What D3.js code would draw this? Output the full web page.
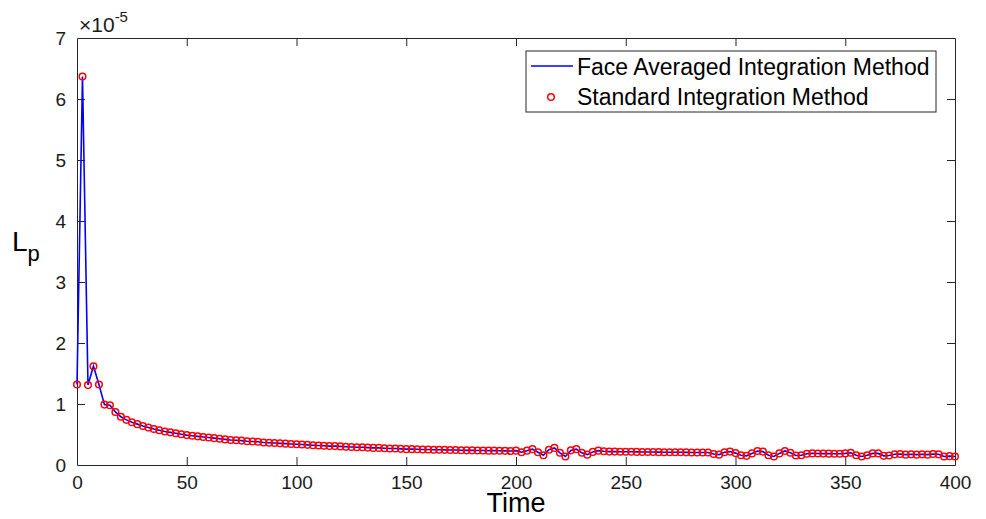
<!DOCTYPE html>
<html>
<head>
<meta charset="utf-8">
<script src="https://cdn.jsdelivr.net/npm/d3@7"></script>
<style>
  body { margin: 0; background: #fff; }
  svg { font-family: "Liberation Sans", Arial, Helvetica, sans-serif; }
</style>
</head>
<body>
<svg id="chart" width="986" height="519"></svg>
<script>
// ---- data (values in units of 1e-5) ----
const times = d3.range(0, 400.001, 2.5);
const lpValues = [
  1.32, 6.37, 1.31, 1.62, 1.32, 0.99, 0.98, 0.87, 0.79, 0.74,
  0.70, 0.67, 0.64, 0.615, 0.59, 0.57, 0.55, 0.535, 0.52, 0.505,
  0.49, 0.48, 0.47, 0.46, 0.45, 0.44, 0.43, 0.42, 0.41, 0.405,
  0.40, 0.39, 0.385, 0.38, 0.37, 0.365, 0.36, 0.355, 0.35, 0.345,
  0.34, 0.335, 0.33, 0.325, 0.32, 0.315, 0.31, 0.31, 0.305, 0.30,
  0.295, 0.29, 0.29, 0.285, 0.28, 0.28, 0.275, 0.27, 0.27, 0.265,
  0.26, 0.26, 0.258, 0.255, 0.253, 0.25, 0.25, 0.248, 0.245, 0.245,
  0.243, 0.24, 0.24, 0.238, 0.237, 0.235, 0.235, 0.233, 0.232, 0.23,
  0.235, 0.21, 0.235, 0.26, 0.21, 0.16, 0.25, 0.28, 0.20, 0.14,
  0.24, 0.26, 0.20, 0.17, 0.215, 0.235, 0.225, 0.22, 0.22, 0.218,
  0.217, 0.216, 0.215, 0.214, 0.213, 0.212, 0.211, 0.21, 0.21, 0.209,
  0.208, 0.207, 0.206, 0.205, 0.205, 0.204, 0.18, 0.17, 0.21, 0.22,
  0.195, 0.16, 0.15, 0.19, 0.23, 0.22, 0.16, 0.14, 0.19, 0.23,
  0.20, 0.155, 0.16, 0.185, 0.19, 0.188, 0.187, 0.186, 0.185, 0.184,
  0.19, 0.20, 0.16, 0.14, 0.16, 0.19, 0.19, 0.15, 0.155, 0.175,
  0.18, 0.17, 0.175, 0.17, 0.175, 0.17, 0.18, 0.175, 0.14, 0.145,
  0.14
];
const xTicks = [0, 50, 100, 150, 200, 250, 300, 350, 400];
const yTicks = [0, 1, 2, 3, 4, 5, 6, 7];
const seriesNames = ["Face Averaged Integration Method", "Standard Integration Method"];
const data = times.map((t, i) => ({ t, v: lpValues[i] })).filter(d => d.v !== undefined);

// ---- layout ----
const svg = d3.select("#chart");
const m = { left: 77, right: 955, top: 38, bottom: 465 };
const x = d3.scaleLinear().domain([0, 400]).range([m.left, m.right]);
const y = d3.scaleLinear().domain([0, 7]).range([m.bottom, m.top]);
const axisColor = "#262626";
const tickLen = 8;

// axes (MATLAB box style with inward ticks)
const gx = svg.append("g").attr("transform", `translate(0,${m.bottom})`)
  .call(d3.axisBottom(x).tickValues(xTicks).tickSizeInner(-tickLen).tickSizeOuter(0).tickPadding(11));
const gxTop = svg.append("g").attr("transform", `translate(0,${m.top})`)
  .call(d3.axisTop(x).tickValues(xTicks).tickSizeInner(-tickLen).tickSizeOuter(0).tickFormat(""));
const gy = svg.append("g").attr("transform", `translate(${m.left},0)`)
  .call(d3.axisLeft(y).tickValues(yTicks).tickFormat(d3.format("d")).tickSizeInner(-tickLen).tickSizeOuter(0).tickPadding(11));
const gyR = svg.append("g").attr("transform", `translate(${m.right},0)`)
  .call(d3.axisRight(y).tickValues(yTicks).tickSizeInner(-tickLen).tickSizeOuter(0).tickFormat(""));

[gx, gxTop, gy, gyR].forEach(g => {
  g.select(".domain").attr("stroke", axisColor).attr("stroke-width", 1);
  g.selectAll(".tick line").attr("stroke", axisColor).attr("stroke-width", 1);
  g.selectAll(".tick text").attr("fill", "#1a1a1a").style("font-size", "19px")
    .style("font-family", "'Liberation Sans', Arial, sans-serif");
});
// hide ticks at the corners
gx.selectAll(".tick").filter(d => d === 0 || d === 400).select("line").remove();
gxTop.selectAll(".tick").filter(d => d === 0 || d === 400).select("line").remove();
gy.selectAll(".tick").filter(d => d === 0 || d === 7).select("line").remove();
gyR.selectAll(".tick").filter(d => d === 0 || d === 7).select("line").remove();

// exponent label
const expo = svg.append("text").attr("x", m.left + 2).attr("y", 32)
  .attr("fill", "#1a1a1a").style("font-size", "21px");
expo.append("tspan").text("×10");
expo.append("tspan").attr("dy", -10).style("font-size", "15px").text("-5");

// axis titles
svg.append("text").attr("x", (m.left + m.right) / 2).attr("y", 512)
  .attr("text-anchor", "middle").attr("fill", "#000").style("font-size", "27px").text("Time");
const yl = svg.append("text").attr("x", 12).attr("y", 251).attr("fill", "#000").style("font-size", "28px");
yl.append("tspan").text("L");
yl.append("tspan").attr("dy", 10).style("font-size", "22px").text("p");

// line
const line = d3.line().x(d => x(d.t)).y(d => y(d.v));
svg.append("path").datum(data).attr("d", line)
  .attr("fill", "none").attr("stroke", "#0000ff").attr("stroke-width", 1.6);

// markers
svg.append("g").selectAll("circle").data(data).join("circle")
  .attr("cx", d => x(d.t)).attr("cy", d => y(d.v)).attr("r", 3.3)
  .attr("fill", "none").attr("stroke", "#ff0000").attr("stroke-width", 1.5);

// legend
const lg = svg.append("g");
lg.append("rect").attr("x", 526).attr("y", 51).attr("width", 410).attr("height", 61)
  .attr("fill", "#fff").attr("stroke", axisColor).attr("stroke-width", 1);
lg.append("line").attr("x1", 531).attr("x2", 573).attr("y1", 66).attr("y2", 66)
  .attr("stroke", "#0000ff").attr("stroke-width", 1.6);
lg.append("circle").attr("cx", 551).attr("cy", 97).attr("r", 3.3)
  .attr("fill", "none").attr("stroke", "#ff0000").attr("stroke-width", 1.5);
lg.selectAll("text.lab").data(seriesNames).join("text").attr("class", "lab")
  .attr("x", 577).attr("y", (d, i) => 75 + i * 30)
  .attr("fill", "#000").style("font-size", "23px").text(d => d);
</script>
</body>
</html>
